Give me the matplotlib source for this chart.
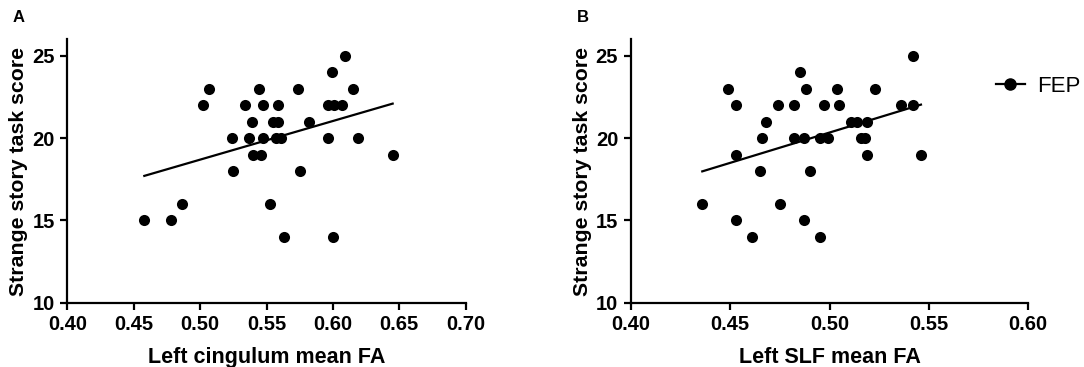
import numpy as np
import matplotlib
matplotlib.use('Agg')
import matplotlib.pyplot as plt
from matplotlib.lines import Line2D

plt.rcParams['font.family'] = ['Liberation Sans', 'DejaVu Sans']

# Panel A: left cingulum mean FA vs strange story score
cing_fa = [0.458, 0.478, 0.486, 0.502, 0.507, 0.524, 0.525, 0.534, 0.537, 0.539,
           0.540, 0.546, 0.544, 0.547, 0.547, 0.553, 0.555, 0.559, 0.559, 0.557,
           0.561, 0.563, 0.574, 0.575, 0.582, 0.596, 0.596, 0.601, 0.607, 0.599,
           0.609, 0.600, 0.615, 0.619, 0.645]
cing_score = [15, 15, 16, 22, 23, 20, 18, 22, 20, 21,
              19, 19, 23, 22, 20, 16, 21, 21, 22, 20,
              20, 14, 23, 18, 21, 20, 22, 22, 22, 24,
              25, 14, 23, 20, 19]

# Panel B: left SLF mean FA vs strange story score
slf_fa = [0.436, 0.449, 0.453, 0.453, 0.453, 0.461, 0.465, 0.466, 0.468, 0.474,
          0.475, 0.482, 0.482, 0.485, 0.487, 0.487, 0.488, 0.490, 0.495, 0.495,
          0.497, 0.499, 0.504, 0.505, 0.511, 0.514, 0.519, 0.516, 0.518, 0.519,
          0.523, 0.536, 0.542, 0.542, 0.546]
slf_score = [16, 23, 22, 19, 15, 14, 18, 20, 21, 22,
             16, 22, 20, 24, 20, 15, 23, 18, 14, 20,
             22, 20, 23, 22, 21, 21, 21, 20, 20, 19,
             23, 22, 22, 25, 19]

W, H = 1084, 367
fig = plt.figure(figsize=(W / 100, H / 100), dpi=100)

def panel(rect, x, y, xlim, xticks, xlabel, letter, letter_xy):
    ax = fig.add_axes(rect)
    ax.scatter(x, y, s=64, color='black', zorder=3, linewidths=0)
    k, b = np.polyfit(x, y, 1)
    xs = np.array([min(x), max(x)])
    ax.plot(xs, k * xs + b, color='black', lw=1.6)
    ax.set_xlim(*xlim)
    ax.set_ylim(10, 26)
    ax.set_xticks(xticks)
    ax.set_xticklabels(['%.2f' % t for t in xticks])
    ax.set_yticks([10, 15, 20, 25])
    for s in ['top', 'right']:
        ax.spines[s].set_visible(False)
    for s in ['left', 'bottom']:
        ax.spines[s].set_linewidth(1.6)
    ax.tick_params(length=5, width=1.6, labelsize=14.5, pad=4)
    for lab in ax.get_xticklabels() + ax.get_yticklabels():
        lab.set_fontweight('bold')
    ax.set_xlabel(xlabel, fontsize=15.5, fontweight='bold', labelpad=9)
    ax.set_ylabel('Strange story task score', fontsize=15.3, fontweight='bold', labelpad=3)
    fig.text(letter_xy[0] / W, 1 - letter_xy[1] / H, letter, fontsize=12,
             fontweight='bold', ha='center', va='center')
    return ax

bottom = (H - 302.7) / H
height = (302.7 - 39.3) / H
panel([67.3 / W, bottom, 398.4 / W, height], cing_fa, cing_score, (0.40, 0.70),
      np.arange(0.40, 0.701, 0.05), 'Left cingulum mean FA', 'A', (19, 18))
panel([630.7 / W, bottom, 397.6 / W, height], slf_fa, slf_score, (0.40, 0.60),
      np.arange(0.40, 0.601, 0.05), 'Left SLF mean FA', 'B', (583, 18))

handle = Line2D([], [], color='black', lw=1.6, marker='o', markersize=8)
fig.legend([handle], ['FEP'], loc='center left', bbox_to_anchor=(996 / W, 1 - 86 / H),
           frameon=False, fontsize=16, handlelength=1.3, handletextpad=0.55,
           borderpad=0, borderaxespad=0)

fig.savefig('out.png', dpi=100)
